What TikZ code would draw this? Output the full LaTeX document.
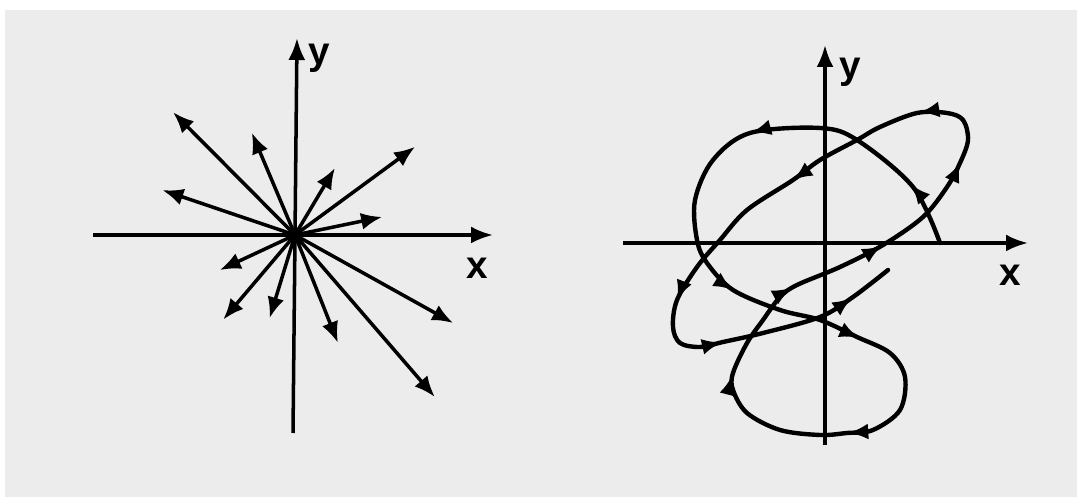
\documentclass[tikz,border=0pt]{standalone}
\usepackage{fontspec}
\setsansfont{Liberation Sans}
\usetikzlibrary{arrows.meta,decorations.markings}
\definecolor{paper}{RGB}{236,236,236}

\begin{document}
\begin{tikzpicture}[every node/.style={font=\sffamily\bfseries\fontsize{22}{24}\selectfont},
	axis/.style={line width=2pt, -{Latex[length=4.4mm,width=3.4mm]}},
	vec/.style={line width=2pt, line cap=round, -{Latex[length=4.2mm,width=3.4mm]}},
	path arrows/.style={line width=2.5pt, line cap=round, line join=round,
		postaction={decorate},
		decoration={markings,
			mark=at position 0.035 with {\arrow{Latex[length=4mm,width=3.2mm]}},
			mark=at position 0.13 with {\arrow{Latex[length=4mm,width=3.2mm]}},
			mark=at position 0.234 with {\arrow{Latex[length=4mm,width=3.2mm]}},
			mark=at position 0.306 with {\arrow{Latex[length=4mm,width=3.2mm]}},
			mark=at position 0.389 with {\arrow{Latex[length=4mm,width=3.2mm]}},
			mark=at position 0.468 with {\arrow{Latex[length=4mm,width=3.2mm]}},
			mark=at position 0.525 with {\arrow{Latex[length=4mm,width=3.2mm]}},
			mark=at position 0.578 with {\arrow{Latex[length=4mm,width=3.2mm]}},
			mark=at position 0.640 with {\arrow{Latex[length=4mm,width=3.2mm]}},
			mark=at position 0.688 with {\arrow{Latex[length=4mm,width=3.2mm]}},
			mark=at position 0.765 with {\arrow{Latex[length=4mm,width=3.2mm]}},
			mark=at position 0.855 with {\arrow{Latex[length=4mm,width=3.2mm]}},
			mark=at position 0.902 with {\arrow{Latex[length=4mm,width=3.2mm]}},
			mark=at position 0.976 with {\arrow{Latex[length=4mm,width=3.2mm]}}}}]
	\useasboundingbox (0,0) rectangle (21.54,9.94);
	\fill[paper] (0.1,0) rectangle (21.54,9.74);
	% Unpolarized light: axes
	\coordinate (o1) at (5.9,5.24);
	\coordinate (xl1) at (1.86,5.24);
	\coordinate (xr1) at (9.86,5.24);
	\coordinate (yb1) at (5.86,1.28);
	\coordinate (yt1) at (5.94,9.18);
	\draw[axis] (xl1) -- (xr1);
	\draw[axis] (yb1) -- (yt1);
	\node (ylab1) at (6.38,8.78) {y};
	\node (xlab1) at (9.54,4.58) {x};
	% Unpolarized light: field vectors
	\foreach \a/\r [count=\i] in {134.8/3.46, 112.9/2.22, 36.3/2.98, 59.2/1.56,
		11.7/1.78, 161.3/2.80, 205/1.66, 229.7/2.22, 253/1.74, 291.7/2.32,
		330.9/3.62, 310.8/4.28}
	{
		\coordinate (t\i) at ([shift={(\a:\r)}]o1);
		\draw[vec] (o1) -- (t\i);
	}
	% Elliptic path: axes
	\coordinate (o2) at (16.5,5.08);
	\coordinate (xl2) at (12.46,5.08);
	\coordinate (xr2) at (20.56,5.08);
	\coordinate (yb2) at (16.5,1.04);
	\coordinate (yt2) at (16.5,9.04);
	\draw[axis] (xl2) -- (xr2);
	\draw[axis] (yb2) -- (yt2);
	\node (ylab2) at (17.0,8.50) {y};
	\node (xlab2) at (20.2,4.44) {x};
	% Elliptic path: tip of the field vector
	\draw[path arrows, shift={(o2)}] plot[smooth, tension=0.55] coordinates {
		(2.30,0.00) (1.76,1.12) (0.64,2.06) (-0.10,2.30) (-1.50,2.20)
		(-2.24,1.66) (-2.60,0.86) (-2.56,0.06) (-2.36,-0.40) (-1.84,-0.94)
		(-0.90,-1.34) (-0.10,-1.54) (0.64,-1.88) (1.30,-2.20) (1.60,-2.68)
		(1.50,-3.34) (0.96,-3.74) (0.44,-3.80) (-0.10,-3.84) (-0.90,-3.74)
		(-1.56,-3.40) (-1.84,-2.94) (-1.84,-2.60) (-1.56,-2.00) (-1.24,-1.54)
		(-0.90,-1.08) (-0.56,-0.84) (0.30,-0.48) (1.16,-0.04) (1.96,0.52)
		(2.44,1.12) (2.70,1.60) (2.86,2.06) (2.76,2.46) (2.44,2.60)
		(1.84,2.60) (1.10,2.32) (0.64,2.06) (-0.10,1.66) (-0.64,1.26)
		(-1.56,0.66) (-2.10,0.06) (-2.56,-0.48) (-2.96,-1.14) (-3.04,-1.68)
		(-2.90,-2.00) (-2.50,-2.08) (-2.04,-1.98) (-1.24,-1.80) (-0.10,-1.48)
		(0.56,-1.08) (1.26,-0.54)};
\end{tikzpicture}
\end{document}
